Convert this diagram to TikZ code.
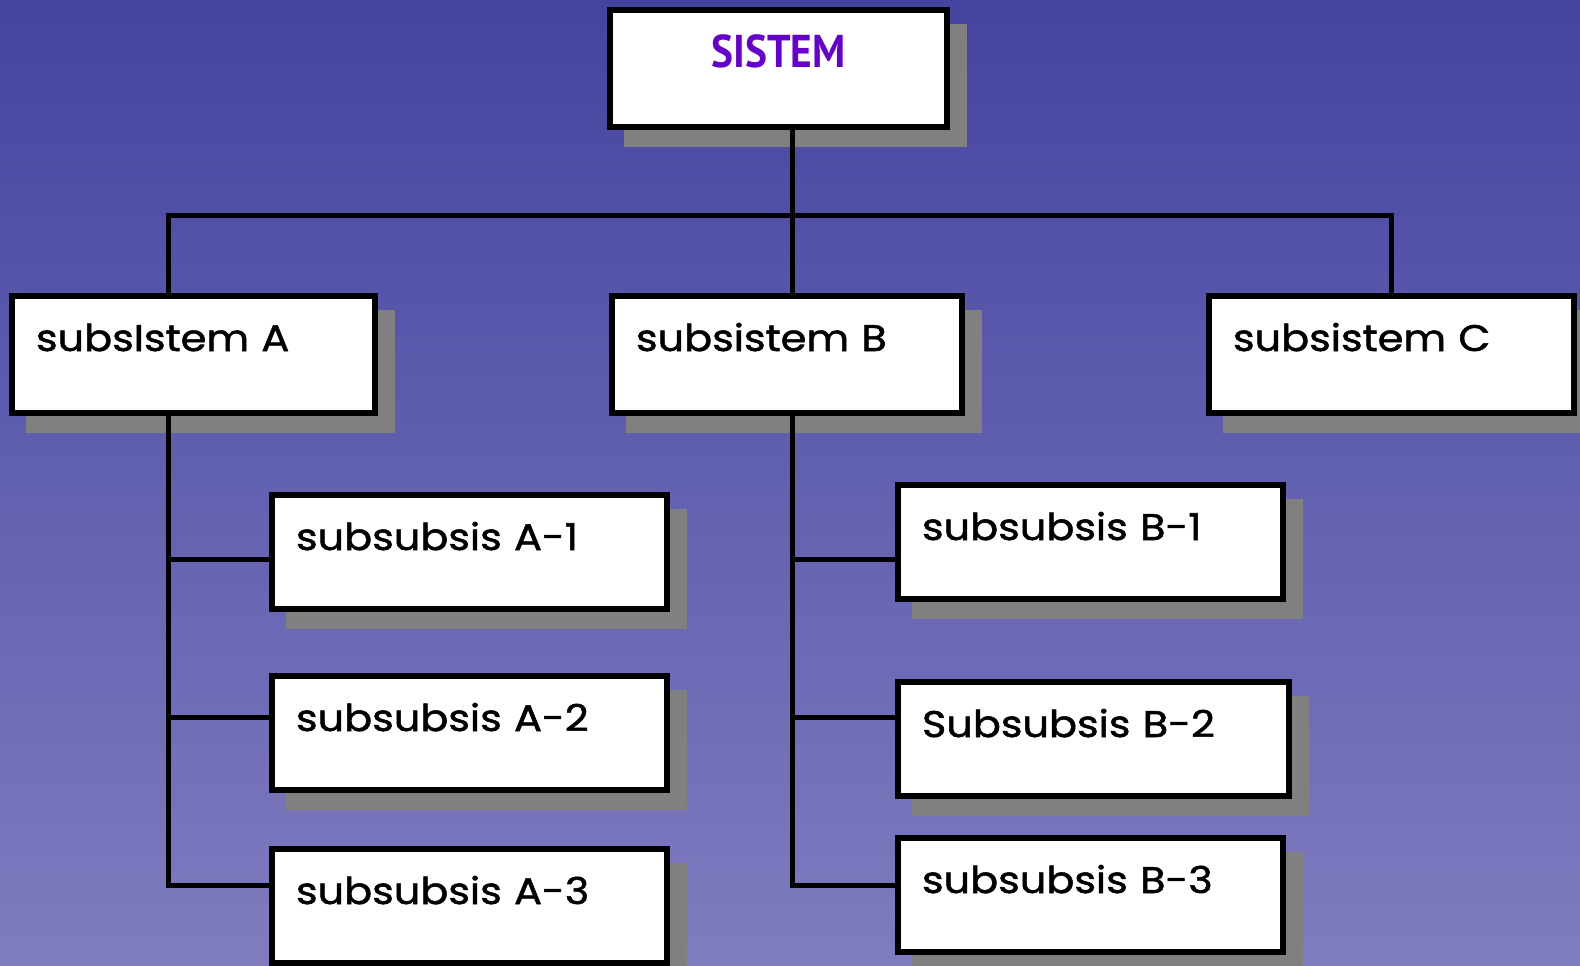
\documentclass[tikz,border=0pt]{standalone}
\usepackage{fontspec}
\setmainfont{Poppins}[FakeBold=1.4, FakeStretch=1.12]
\newfontfamily\titlefont[FakeStretch=0.9]{PT Sans}
\usetikzlibrary{shadows}
\definecolor{bgtop}{RGB}{68,68,160}
\definecolor{bgbottom}{RGB}{128,124,192}
\definecolor{boxshadow}{RGB}{128,128,128}
\definecolor{titlepurple}{RGB}{102,0,204}
\newcommand\boxtextstyle{\fontsize{37}{42}\selectfont}
\newcommand\titletextstyle{\titlefont\bfseries\fontsize{46}{50}\selectfont}
\tikzset{
  sysbox/.style={draw, fill=white, line width=6pt, rectangle, anchor=north west,
    outer sep=0pt, inner xsep=24pt, inner ysep=0pt, text height=55pt, text depth=59pt,
    font=\boxtextstyle, text width=#1,
    general shadow={fill=boxshadow, draw=boxshadow, shadow xshift=17pt, shadow yshift=-17pt}},
  link/.style={line width=5pt}
}
\begin{document}
\begin{tikzpicture}[x=1pt, y=-1pt]
    \shade[top color=bgtop, bottom color=bgbottom] (0,0) rectangle (1580,966);
    \useasboundingbox (0,0) rectangle (1580,966);
    % top level
    \node[sysbox=289pt, align=center, font=\titletextstyle, text=titlepurple,
      text height=57pt, text depth=60pt] (sistem) at (610,10) {SISTEM};
    % subsystems
    \node[sysbox=315pt, text depth=62pt] (subA) at (12,296) {subsIstem A};
    \node[sysbox=302pt, text depth=62pt] (subB) at (612,296) {subsistem B};
    \node[sysbox=317pt, text depth=62pt] (subC) at (1209,296) {subsistem C};
    % subsubsystems
    \node[sysbox=347pt] (aone) at (272,495) {subsubsis A-1};
    \node[sysbox=347pt] (atwo) at (272,676) {subsubsis A-2};
    \node[sysbox=347pt] (athree) at (272,849) {subsubsis A-3};
    \node[sysbox=337pt] (bone) at (898,485) {subsubsis B-1};
    \node[sysbox=343pt] (btwo) at (898,682) {Subsubsis B-2};
    \node[sysbox=337pt] (bthree) at (898,838) {subsubsis B-3};
    % connectors
    \coordinate (hubA) at (168,215);
    \coordinate (hubB) at (792,215);
    \coordinate (hubC) at (1391,215);
    \draw[link] (hubA |- subA.north) -- (hubA) -- (hubC) -- (hubC |- subC.north);
    \draw[link] (hubB |- sistem.south) -- (hubB |- subB.north);
    \draw[link] (hubA |- subA.south) -- (168,885) -- (athree.west |- 0,885);
    \draw[link] (hubB |- subB.south) -- (792,885) -- (bthree.west |- 0,885);
    \foreach \y/\a/\b in {559/aone/bone, 717/atwo/btwo} {
      \draw[link] (168,\y) -- (\a.west |- 0,\y);
      \draw[link] (792,\y) -- (\b.west |- 0,\y);
    }
\end{tikzpicture}
\end{document}
